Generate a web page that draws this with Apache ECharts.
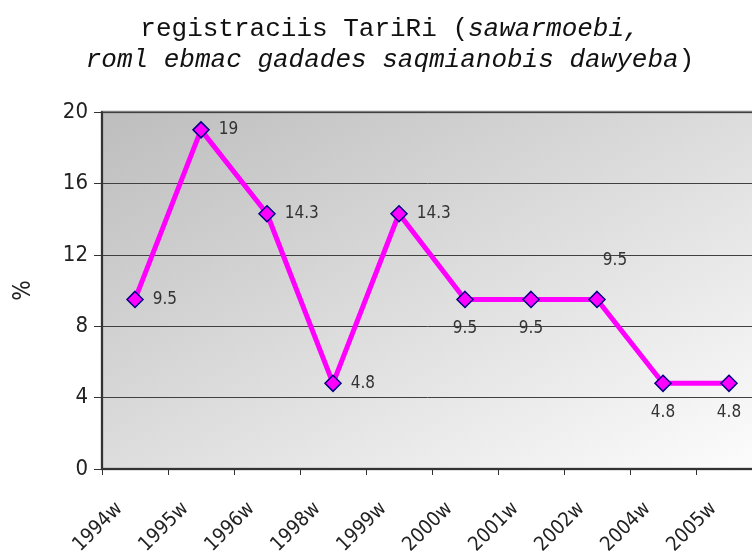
<!DOCTYPE html>
<html>
<head>
<meta charset="utf-8">
<script src="https://cdn.jsdelivr.net/npm/echarts@6/dist/echarts.min.js"></script>
<style>
  html, body { margin: 0; padding: 0; background: #fff; }
  #chart { width: 752px; height: 554px; }
</style>
</head>
<body>
<div id="chart"></div>
<script>
const categories = ['1994w', '1995w', '1996w', '1998w', '1999w', '2000w', '2001w', '2002w', '2004w', '2005w'];
const values = [9.5, 19, 14.3, 4.8, 14.3, 9.5, 9.5, 9.5, 4.8, 4.8];
const yTicks = [0, 4, 8, 12, 16, 20];

// where each value label sits relative to its point
const labelSide = ['right', 'right', 'right', 'right', 'right', 'bottom', 'bottom', 'top', 'bottom', 'bottom'];

const numFont = "'DejaVu Sans Condensed', 'Liberation Sans Narrow', 'Liberation Sans', sans-serif";
const titleFont = "'Liberation Mono', 'DejaVu Sans Mono', monospace";

function labelFor(side) {
  if (side === 'right') return { position: 'right', distance: 9 };
  if (side === 'top') return { position: 'top', distance: 14, offset: [18, -8] };
  return { position: 'bottom', distance: 12 };
}

const chart = echarts.init(document.getElementById('chart'));
chart.setOption({
  animation: false,
  backgroundColor: '#fff',
  title: {
    text: '{n|registraciis TariRi (}{i|sawarmoebi,}\n{i|roml ebmac gadades saqmianobis dawyeba}{n|)}',
    left: 385,
    top: 9,
    textAlign: 'center',
    textStyle: {
      fontWeight: 'normal',
      rich: {
        n: { fontFamily: titleFont, fontSize: 26, fontWeight: 'normal', color: '#111', lineHeight: 31 },
        i: { fontFamily: titleFont, fontSize: 26, fontWeight: 'normal', fontStyle: 'italic', color: '#111', lineHeight: 31 }
      }
    }
  },
  grid: {
    left: 102,
    right: -10,
    top: 112,
    bottom: 85,
    outerBoundsMode: 'none',
    containLabel: false,
    show: true,
    borderColor: '#808080',
    borderWidth: 2.5,
    // gradient runs along the box diagonal, so the two off corners get the same grey
    backgroundColor: new echarts.graphic.LinearGradient(0, 0, 0.453, 1.547, [
      { offset: 0, color: '#bdbdbd' },
      { offset: 1, color: '#fdfdfd' }
    ])
  },
  xAxis: {
    type: 'category',
    data: categories,
    boundaryGap: true,
    axisLine: { lineStyle: { color: '#333', width: 2 } },
    axisTick: { show: true, length: 6, lineStyle: { color: '#333' } },
    axisLabel: {
      rotate: 45,
      margin: 21,
      padding: [0, 22, 0, 0],
      interval: 0,
      fontFamily: numFont,
      fontSize: 20,
      color: '#222'
    }
  },
  yAxis: {
    type: 'value',
    min: yTicks[0],
    max: yTicks[yTicks.length - 1],
    interval: 4,
    name: '%',
    nameLocation: 'middle',
    nameGap: 66,
    nameRotate: 90,
    nameTextStyle: { fontFamily: numFont, fontSize: 24, color: '#222' },
    axisLine: { show: true, lineStyle: { color: '#333', width: 2 } },
    axisTick: { show: true, inside: false, length: 8, lineStyle: { color: '#333' } },
    axisLabel: {
      margin: 14,
      fontFamily: numFont,
      fontSize: 22,
      color: '#222',
      formatter: v => yTicks.includes(v) ? String(v) : ''
    },
    splitLine: { show: true, lineStyle: { color: '#404040', width: 1 } }
  },
  series: [{
    type: 'line',
    data: values.map((v, i) => ({ value: v, label: labelFor(labelSide[i]) })),
    symbol: 'diamond',
    symbolSize: 16,
    lineStyle: { color: '#ff00ff', width: 5 },
    itemStyle: { color: '#ff00ff', borderColor: '#000080', borderWidth: 1.5 },
    label: {
      show: true,
      fontFamily: numFont,
      fontSize: 17,
      color: '#333'
    },
    z: 3
  }]
});
</script>
</body>
</html>
